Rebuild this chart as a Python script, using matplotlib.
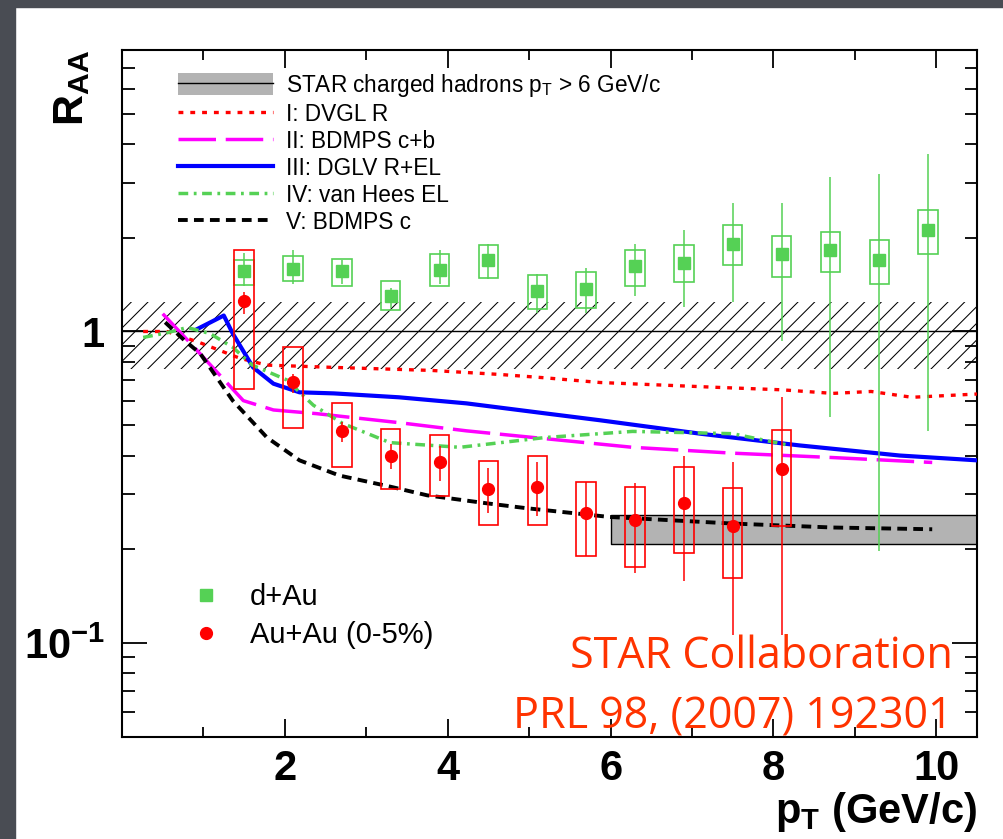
import numpy as np
import matplotlib.pyplot as plt
from matplotlib.patches import Rectangle, Patch
from matplotlib.lines import Line2D
from matplotlib.ticker import FixedLocator, FixedFormatter, NullFormatter

plt.rcParams['font.family'] = 'Liberation Sans'
plt.rcParams['mathtext.fontset'] = 'custom'
plt.rcParams['mathtext.rm'] = 'Liberation Sans'
plt.rcParams['mathtext.it'] = 'Liberation Sans'
plt.rcParams['mathtext.bf'] = 'Liberation Sans:bold'
plt.rcParams['mathtext.default'] = 'rm'
plt.rcParams['hatch.linewidth'] = 0.75
plt.rcParams['lines.scale_dashes'] = False

# d+Au non-photonic electrons
dau_x = [1.5, 2.1, 2.7, 3.3, 3.9, 4.5, 5.1, 5.7, 6.3, 6.9, 7.5, 8.1, 8.7, 9.3, 9.9]
dau_y = [1.56, 1.59, 1.56, 1.30, 1.58, 1.69, 1.35, 1.37, 1.62, 1.66, 1.91, 1.77, 1.82, 1.70, 2.11]
dau_stat_lo = [1.40, 1.42, 1.42, 1.19, 1.42, 1.47, 1.15, 1.15, 1.30, 1.20, 1.24, 0.935, 0.53, 0.198, 0.48]
dau_stat_hi = [1.79, 1.82, 1.69, 1.38, 1.82, 1.91, 1.53, 1.60, 1.91, 2.12, 2.59, 2.59, 3.12, 3.21, 3.72]
dau_sys_lo = [1.41, 1.45, 1.40, 1.17, 1.40, 1.49, 1.18, 1.19, 1.40, 1.44, 1.64, 1.50, 1.55, 1.42, 1.77]
dau_sys_hi = [1.70, 1.75, 1.71, 1.45, 1.77, 1.89, 1.52, 1.55, 1.83, 1.90, 2.19, 2.03, 2.09, 1.97, 2.46]

# Au+Au 0-5%
auau_x = [1.5, 2.1, 2.7, 3.3, 3.9, 4.5, 5.1, 5.7, 6.3, 6.9, 7.5, 8.1]
auau_y = [1.25, 0.687, 0.478, 0.398, 0.38, 0.312, 0.318, 0.261, 0.248, 0.281, 0.237, 0.361]
auau_stat_lo = [1.14, 0.637, 0.441, 0.361, 0.331, 0.261, 0.255, 0.191, 0.168, 0.158, 0.106, 0.106]
auau_stat_hi = [1.34, 0.733, 0.511, 0.434, 0.428, 0.364, 0.38, 0.328, 0.326, 0.40, 0.38, 0.615]
auau_sys_lo = [0.656, 0.49, 0.367, 0.312, 0.296, 0.239, 0.239, 0.19, 0.175, 0.194, 0.162, 0.237]
auau_sys_hi = [1.83, 0.89, 0.588, 0.485, 0.464, 0.383, 0.398, 0.33, 0.318, 0.367, 0.314, 0.482]

# theory curves
dvgl_x = [0.26, 0.55, 0.96, 1.45, 1.78, 2.6, 3.8, 4.64, 5.2, 5.87, 7.3, 8.1, 8.73, 9.2, 9.7, 10.5]
dvgl_y = [1.0, 1.0, 0.92, 0.82, 0.78, 0.767, 0.75, 0.728, 0.71, 0.686, 0.662, 0.65, 0.633, 0.642, 0.615, 0.63]
bdmps_cb_x = [0.5, 0.81, 1.49, 1.86, 2.39, 3.4, 4.23, 5.05, 6.27, 7.5, 8.73, 9.95]
bdmps_cb_y = [1.14, 0.935, 0.60, 0.56, 0.545, 0.51, 0.48, 0.457, 0.425, 0.407, 0.394, 0.38]
dglv_x = [0.93, 1.25, 1.36, 1.61, 1.86, 2.18, 2.6, 3.4, 4.23, 5.2, 5.87, 7.1, 8.32, 9.55, 10.5]
dglv_y = [1.02, 1.125, 0.985, 0.767, 0.68, 0.638, 0.633, 0.615, 0.588, 0.546, 0.519, 0.47, 0.431, 0.40, 0.386]
vanhees_x = [0.26, 0.55, 0.8, 1.08, 1.36, 1.6, 2.02, 2.35, 2.71, 3.29, 4.15, 5.2, 6.27, 7.5, 8.2]
vanhees_y = [0.957, 0.99, 1.03, 0.985, 0.89, 0.78, 0.70, 0.58, 0.507, 0.44, 0.425, 0.457, 0.478, 0.47, 0.431]
bdmps_c_x = [0.53, 0.77, 0.96, 1.36, 1.78, 2.18, 2.67, 3.29, 3.75, 4.48, 4.97, 5.99, 7.5, 8.73, 9.95]
bdmps_c_y = [1.07, 0.935, 0.85, 0.60, 0.457, 0.386, 0.345, 0.318, 0.298, 0.281, 0.271, 0.254, 0.242, 0.235, 0.232]

# bands
norm_lo, norm_hi = 0.76, 1.24
hadron_x = [6.0, 10.5]
hadron_lo = [0.208, 0.208]
hadron_hi = [0.257, 0.257]

green = '#55d155'
red = '#ff0000'

fig = plt.figure(figsize=(10.04, 8.39), dpi=100)
fig.patches.append(Rectangle((0, 0), 15 / 1004, 1, transform=fig.transFigure,
                             color='#494c53', zorder=-1))
fig.patches.append(Rectangle((0, 1 - 7 / 839), 1, 7 / 839, transform=fig.transFigure,
                             color='#494c53', zorder=-1))

ax = fig.add_axes([122 / 1004, 1 - 737 / 839, 855 / 1004, 687 / 839])
ax.set_yscale('log')
ax.set_xlim(0, 10.5)
ax.set_ylim(0.05, 8)

ax.axhspan(norm_lo, norm_hi, facecolor='none', edgecolor='black', hatch='//', lw=0, zorder=1)
ax.axhline(1, color='black', lw=1, zorder=2)
ax.fill_between(hadron_x, hadron_lo, hadron_hi, facecolor='#b3b3b3', edgecolor='black',
                lw=1, zorder=2)

l1, = ax.plot(dvgl_x, dvgl_y, color=red, lw=2.4, dashes=(3.5, 5), zorder=3)
l2, = ax.plot(bdmps_cb_x, bdmps_cb_y, color='#ff00ff', lw=2.5, dashes=(27, 7), zorder=3)
l3, = ax.plot(dglv_x, dglv_y, color='#0000ff', lw=3, zorder=3)
l4, = ax.plot(vanhees_x, vanhees_y, color=green, lw=2.5, dashes=(7, 4, 2, 4), zorder=3)
l5, = ax.plot(bdmps_c_x, bdmps_c_y, color='black', lw=2.8, dashes=(7, 4.5), zorder=3)

# systematic boxes
ax.bar(dau_x, np.array(dau_sys_hi) - np.array(dau_sys_lo), bottom=dau_sys_lo, width=0.24,
       fill=False, edgecolor=green, lw=1.2, zorder=4)
ax.bar(auau_x, np.array(auau_sys_hi) - np.array(auau_sys_lo), bottom=auau_sys_lo, width=0.24,
       fill=False, edgecolor=red, lw=1.2, zorder=4)

# stat errors and points
ax.errorbar(dau_x, dau_y, yerr=[np.array(dau_y) - dau_stat_lo, np.array(dau_stat_hi) - dau_y],
            fmt='none', ecolor=green, elinewidth=1.1, zorder=5)
ax.errorbar(auau_x, auau_y, yerr=[np.array(auau_y) - auau_stat_lo, np.array(auau_stat_hi) - auau_y],
            fmt='none', ecolor=red, elinewidth=1.1, zorder=5)
ax.plot(dau_x, dau_y, 's', color=green, ms=8, zorder=6)
ax.plot(auau_x, auau_y, 'o', color=red, ms=8.5, zorder=6)

# axes styling
for s in ax.spines.values():
    s.set_linewidth(1.5)
ax.xaxis.set_major_locator(FixedLocator([2, 4, 6, 8, 10]))
ax.xaxis.set_minor_locator(FixedLocator([1, 3, 5, 7, 9]))
ax.yaxis.set_major_locator(FixedLocator([0.1, 1]))
ax.yaxis.set_major_formatter(FixedFormatter([r'$\mathbf{10^{-1}}$', r'$\mathbf{1}$']))
ax.yaxis.set_minor_locator(FixedLocator([0.05, 0.06, 0.07, 0.08, 0.09, 0.2, 0.3, 0.4, 0.5,
                                         0.6, 0.7, 0.8, 0.9, 2, 3, 4, 5, 6, 7, 8]))
ax.yaxis.set_minor_formatter(NullFormatter())
ax.tick_params(which='both', direction='in', top=True, right=True, width=1.3)
ax.tick_params(axis='x', which='major', length=13, pad=9)
ax.tick_params(axis='x', which='minor', length=7)
ax.tick_params(axis='y', which='major', length=18, pad=12)
ax.tick_params(axis='y', which='minor', length=9)
for lab in ax.get_xticklabels():
    lab.set_fontsize(30)
    lab.set_fontweight('bold')
for lab in ax.get_yticklabels():
    lab.set_fontsize(30)

ax.set_xlabel(r'p$\mathbf{_T}$ (GeV/c)', fontsize=30, fontweight='bold', loc='right', labelpad=0)
ax.set_ylabel(r'R$\mathbf{_{AA}}$', fontsize=31, fontweight='bold', loc='top')
ax.yaxis.set_label_coords(-0.035, 1.0)

# legends
band_handle = (Patch(facecolor='#b3b3b3', edgecolor='none'), Line2D([], [], color='black', lw=1))
leg1 = ax.legend([band_handle, l1, l2, l3, l4, l5],
                 ['STAR charged hadrons p$_T$ > 6 GeV/c', 'I: DVGL R', 'II: BDMPS c+b',
                  'III: DGLV R+EL', 'IV: van Hees EL', 'V: BDMPS c'],
                 loc='upper left', bbox_to_anchor=(0.0655, 0.968), frameon=False,
                 fontsize=16.3, handlelength=4.2, handleheight=1.1, handletextpad=0.55,
                 labelspacing=0.15, borderpad=0, borderaxespad=0)
ax.add_artist(leg1)
dau_h = Line2D([], [], marker='s', color=green, ls='none', ms=8)
auau_h = Line2D([], [], marker='o', color=red, ls='none', ms=8.5)
ax.legend([dau_h, auau_h], ['d+Au', 'Au+Au (0-5%)'], loc='upper left',
          bbox_to_anchor=(0.0775, 0.224), frameon=False, fontsize=21,
          handlelength=1.2, handletextpad=0.9, labelspacing=0.35, borderpad=0, borderaxespad=0)

ax.text(0.972, 0.1004, 'STAR Collaboration', transform=ax.transAxes, ha='right',
        va='baseline', fontsize=31, color='#ff3300', family='Open Sans')
ax.text(0.972, 0.0131, 'PRL 98, (2007) 192301', transform=ax.transAxes, ha='right',
        va='baseline', fontsize=31, color='#ff3300', family='Open Sans')

fig.savefig('out.png', dpi=100, facecolor='white')
